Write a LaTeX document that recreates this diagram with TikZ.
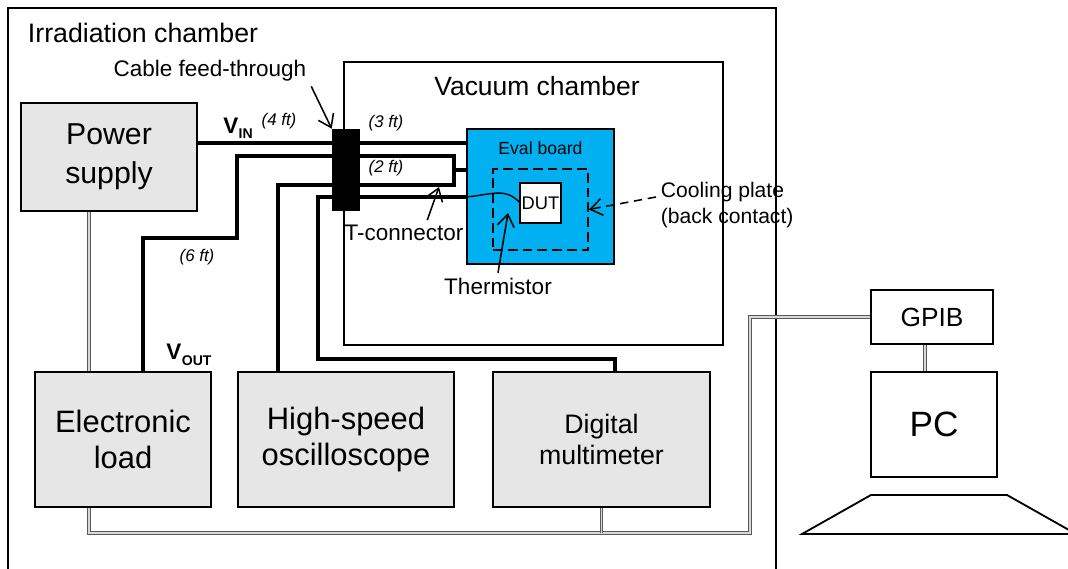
\documentclass[tikz,border=0pt]{standalone}
\usepackage{fontspec}
\setmainfont{Liberation Sans}
\usepackage{xcolor}
\usetikzlibrary{arrows.meta,calc,positioning}
\definecolor{boxgray}{RGB}{230,230,230}
\definecolor{boardblue}{RGB}{0,176,240}
\newcommand{\fsz}[2]{\fontsize{#1}{#2}\selectfont}
\newcommand{\volt}[1]{\textbf{V\kern0.3pt\raisebox{-0.45ex}{\fsz{10}{12}\bfseries #1}}}

\begin{document}
\begin{tikzpicture}[x=0.025cm,y=-0.025cm,>={Straight Barb[length=3mm,width=4.2mm]},
  every node/.style={font=\fsz{16}{19}},
  instr/.style={draw,line width=1.3pt,fill=boxgray,align=center,inner sep=0pt},
  plainbox/.style={draw,line width=1.3pt,fill=white,inner sep=0pt},
  wire/.style={line width=3.3pt},
  bus/.style={draw=black!65,line width=0.65pt,double=black!15,double distance=1.3pt},
  pointer/.style={->,line width=1.1pt},
  ftlabel/.style={font=\fsz{12}{14}\itshape}]
  \useasboundingbox (0,0) rectangle (1068,569);
  \draw[line width=1.3pt] (8,600) -- (8,8) -- (776,8) -- (776,600);
  \node[anchor=west,font=\fsz{19}{22}] (irr) at (23,33) {Irradiation chamber};
  \node[plainbox,minimum width=9.475cm,minimum height=7.075cm] (vac) at (533.5,203.5) {};
  \node[font=\fsz{18.8}{22}] (vaclabel) at (537,86) {Vacuum chamber};

  \node[instr,minimum width=4.4cm,minimum height=2.7cm,font=\fsz{21.5}{27.5}] (ps) at (109,157) {Power\\supply};
  \node[instr,minimum width=4.4cm,minimum height=3.375cm,font=\fsz{22}{25.5}] (eload) at (123,439.5) {Electronic\\load};
  \node[instr,minimum width=5.4cm,minimum height=3.375cm,font=\fsz{22}{25}] (osc) at (346,439.5) {High-speed\\oscilloscope};
  \node[instr,minimum width=5.425cm,minimum height=3.375cm,font=\fsz{19}{22}] (dmm) at (601.5,439.5) {Digital\\multimeter};
  \node[plainbox,minimum width=3.05cm,minimum height=1.35cm,font=\fsz{18.7}{22}] (gpib) at (932,317) {GPIB};
  \node[plainbox,minimum width=3.15cm,minimum height=2.625cm,font=\fsz{25}{28}] (pc) at (934,424.5) {PC};
  \draw[line width=1.3pt] (802,534) -- (871,495) -- (1007,495) -- (1076,534) -- cycle;

  \node[draw,line width=1.3pt,fill=boardblue,minimum width=3.675cm,minimum height=3.375cm] (eval) at (540.5,196.5) {};
  \node[font=\fsz{12.5}{15},below=0.22cm of eval.north] (evallabel) {Eval board};
  \node[draw,line width=1.3pt,dash pattern=on 7pt off 3.5pt,minimum width=2.375cm,minimum height=2.025cm] (cp) at (540.5,209.5) {};
  \node[plainbox,minimum width=1.025cm,minimum height=1cm,font=\fsz{13}{15}] (dut) at (540.5,203) {DUT};

  \draw[bus] (89,0 |- ps.south) -- (89,0 |- eload.north);
  \draw[bus] (89,0 |- eload.south) -- (89,533) -| (750,0 |- gpib.west) -- (gpib.west);
  \draw[bus] (dmm.south) -- (dmm.south |- 0,533);
  \draw[bus] (925,0 |- gpib.south) -- (925,0 |- pc.north);

  \draw[wire] (ps.east |- 0,143) -- (eval.west |- 0,143);
  \draw[wire] (143,0 |- eload.north) |- (237,238) |- (454,156) -- (454,185) -| (278,0 |- osc.north);
  \draw[wire] (454,170) -- (eval.west |- 0,170);
  \draw[wire] (615,0 |- dmm.north) |- (318,359) |- (eval.west |- 0,197);
  \node[fill=black,minimum width=0.7cm,minimum height=2.05cm,inner sep=0pt] (ft) at (346,170) {};
  \draw[line width=1pt] (eval.west |- 0,197) .. controls (490,195) and (505,187) .. (dut.west |- 0,202);

  \node (vin) at (238,128) {\volt{IN}};
  \node (vout) at (189,355) {\volt{OUT}};
  \node[ftlabel] (len4) at (279,121) {(4 ft)};
  \node[ftlabel] (len3) at (386,123) {(3 ft)};
  \node[ftlabel] (len2) at (386,168) {(2 ft)};
  \node[ftlabel] (len6) at (197,257) {(6 ft)};

  \node (cft) at (210,71) {Cable feed-through};
  \node (tcon) at (404,233) {T-connector};
  \node (therm) at (498,286) {Thermistor};
  \node[font=\fsz{15}{18.5},align=left,anchor=west] (cool) at (656,205) {Cooling plate\\(back contact)};
  \coordinate (tconn) at (439,187);
  \coordinate (thermtip) at (508,213);
  \draw[pointer] (cft.south east) -- (ft.north west);
  \draw[pointer] ([xshift=0.58cm]tcon.north) -- (tconn);
  \draw[pointer] (therm.north) -- (thermtip);
  \draw[pointer,dash pattern=on 6pt off 4pt] ([yshift=0.2cm]cool.west) -- (cp.east);
\end{tikzpicture}
\end{document}
